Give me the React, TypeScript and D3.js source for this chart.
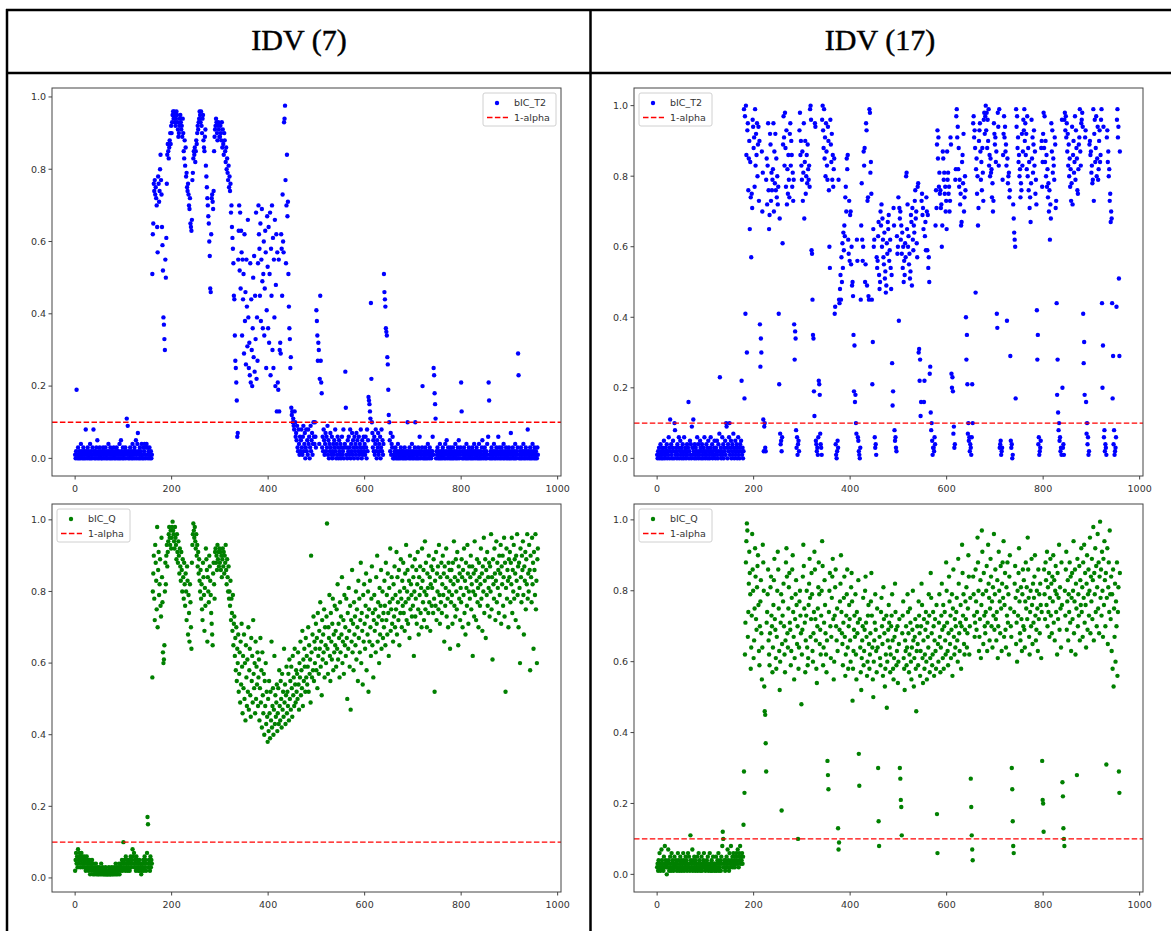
import React from 'react';
import * as d3 from 'd3';

const columnTitles = ['IDV (7)', 'IDV (17)'];
const xTicks = [0, 200, 400, 600, 800, 1000];
const yTicks = [0, 0.2, 0.4, 0.6, 0.8, 1.0];
const thresholdValue = 0.1;
const thresholdLabel = '1-alpha';

// values in percent, index = sample number
const idv7T2 = [
1,0,2,19,1,0,3,1,0,2,1,0,4,1,2,0,1,3,0,2,
1,0,8,2,1,0,3,1,2,0,1,4,0,2,1,0,3,1,8,2,
0,1,2,0,3,1,5,0,2,1,0,3,1,2,0,1,0,2,3,1,
0,2,1,3,0,1,2,0,1,4,2,0,1,3,0,2,1,0,2,1,
3,0,1,2,0,1,3,2,0,1,2,0,4,1,0,5,2,1,0,3,
1,0,2,1,3,0,2,11,1,9,0,2,1,0,3,1,2,0,1,4,
0,2,1,3,0,2,5,1,0,4,7,2,0,1,3,0,2,1,4,0,
1,3,0,2,4,1,0,3,4,1,3,0,2,1,3,0,1,2,0,1,
51,62,65,76,74,77,73,75,72,70,64,57,78,76,71,74,80,84,77,73,
64,59,52,39,37,33,30,55,50,61,76,84,87,85,83,86,88,90,87,92,
90,93,95,96,94,96,95,93,92,94,96,95,93,91,89,90,92,94,95,93,
91,92,89,94,90,85,83,88,81,86,78,79,75,74,76,73,70,69,72,65,
64,63,66,77,79,83,85,84,86,82,85,88,87,90,92,91,93,94,96,95,
93,96,92,90,94,95,88,86,85,89,91,81,78,75,72,70,67,65,60,56,
47,46,62,72,73,71,69,74,85,89,91,92,94,93,90,88,92,93,91,89,
89,92,90,88,93,86,91,87,84,90,88,85,82,86,80,83,79,77,81,75,
78,74,76,68,70,64,61,58,54,45,44,34,27,25,21,16,6,7,55,63,
70,52,68,47,63,57,34,55,44,51,29,62,38,46,26,55,42,31,66,39,
25,32,23,54,21,44,30,20,36,50,28,56,24,45,33,68,22,39,27,54,
70,62,58,45,65,38,55,69,49,36,51,60,34,47,63,57,25,41,67,53,
36,64,32,51,68,23,58,45,70,30,61,25,55,39,66,20,48,62,13,57,
21,19,55,13,30,32,29,62,58,45,73,60,57,93,94,97.6,77,54,70,84,
67,71,51,42,36,33,25,28,14,12,13,10,11,9,8,13,10,6,7,5,
9,3,2,8,4,1,6,2,5,8,3,1,6,9,2,4,7,0,3,8,
2,5,1,8,4,6,0,3,9,2,5,7,1,4,10,6,4,10,6,3,
41,38,34,27,32,30,4,22,45,27,21,18,3,6,2,8,5,1,4,7,
2,6,3,9,1,5,0,4,2,7,3,1,6,0,2,4,1,5,3,8,
2,0,4,1,6,3,0,5,2,1,4,0,3,6,1,2,8,0,3,4,
24,14,1,3,0,5,2,6,1,3,8,0,4,2,7,1,5,3,0,6,
2,4,1,7,3,5,0,2,6,1,4,3,8,2,0,5,1,3,6,2,
4,1,6,3,0,8,2,5,17,16,15,13,11,43,22,10,7,3,5,2,
6,1,4,8,2,0,5,3,7,1,4,2,6,0,3,8,2,5,1,4,
51,46,44,42,36,35,34,28,26,19,12,10,5,2,7,1,4,3,6,0,
1,0,2,1,3,0,1,2,0,4,1,0,2,1,0,3,1,2,0,1,
2,0,1,3,0,1,2,0,1,10,2,1,0,3,1,0,2,1,4,0,
1,2,0,1,3,10,0,2,1,0,1,3,0,2,6,1,0,2,1,3,
20,0,1,2,0,1,3,0,2,1,0,4,2,1,0,3,1,2,0,1,
2,6,1,25,23,18,15,11,0,2,1,3,0,1,2,0,4,1,0,2,
1,0,3,1,2,0,1,4,0,2,5,1,0,3,1,2,0,1,3,0,
2,1,0,3,1,0,2,1,4,0,1,2,0,3,1,5,0,2,1,3,
21,13,0,2,1,0,3,1,2,0,1,4,0,2,1,0,3,1,2,0,
1,2,0,3,1,0,2,4,1,0,2,1,3,0,1,2,0,4,1,0,
2,1,0,3,5,1,0,2,1,3,0,1,2,0,4,1,6,21,16,0,
1,2,0,3,1,0,2,1,4,0,2,1,0,3,1,2,0,6,1,3,
0,2,1,0,3,1,2,0,4,1,0,2,1,3,0,1,2,0,1,3,
2,0,1,7,0,2,1,3,0,1,2,0,4,1,0,2,1,3,29,23,
0,1,2,0,3,1,0,2,1,4,0,2,1,0,3,1,2,0,8,1,
2,0,1,3,0,2,1,0,4,1,2,0,3,1,0,2,1,0,3,1,
];

const idv17T2 = [
1,0,2,1,3,0,1,4,2,0,1,3,0,2,5,1,0,3,1,2,
4,0,2,1,6,3,0,11,2,4,1,0,3,5,2,0,10,8,1,3,
2,0,4,1,3,6,0,2,5,1,3,0,2,4,1,0,6,2,3,1,
0,2,4,1,3,16,0,2,5,1,4,0,9,3,1,11,2,0,4,1,
3,0,2,6,1,4,0,2,1,5,3,0,2,4,1,0,3,2,6,1,
0,2,4,1,3,0,5,2,1,0,3,6,2,1,4,0,2,1,3,5,
1,0,3,2,5,1,0,4,2,7,23,1,3,0,2,6,1,4,0,3,
2,5,1,10,9,3,0,4,2,6,10,1,3,5,0,2,4,1,7,3,
0,2,5,1,3,4,0,2,6,1,3,0,4,2,5,22,1,3,0,2,
99,17,97,41,100,86,30,93,95,76,85,90,65,84,74,57,75,71,96,94,
88,91,77,99,83,92,86,95,80,89,94,73,90,38,26,34,30,87,70,81,
11,2,9,10,3,2,79,85,72,83,95,76,65,69,92,89,73,81,76,79,
82,95,70,87,78,92,76,85,74,80,72,77,41,21,68,7,4,5,2,6,
61,89,97,91,83,98,88,77,93,72,82,75,86,79,74,92,95,83,90,86,
77,81,73,79,38,28,36,34,8,3,6,1,4,5,2,93,98,86,90,83,
79,87,73,81,95,68,84,90,75,80,86,78,89,82,79,83,77,99,100,96,
59,58,45,35,34,19,12,95,94,5,4,2,3,1,6,22,21,18,7,4,
3,1,96,100,93,88,99,85,91,80,95,87,83,79,94,90,76,60,54,96,
89,84,92,79,86,77,82,85,41,43,4,1,0,2,5,3,79,45,44,48,
52,45,57,50,61,54,64,59,66,63,74,77,70,85,82,86,62,58,73,56,
69,70,55,60,49,50,46,35,19,32,16,18,10,7,62,56,6,5,2,1,
0,3,45,66,78,62,56,60,87,83,88,50,55,95,93,49,73,74,46,45,
99,98,81,84,75,45,21,33,65,60,62,6,3,4,1,57,54,56,63,67,
52,48,50,70,66,72,60,68,62,57,55,64,51,53,47,49,61,58,67,65,
69,56,59,62,54,48,52,27,15,19,71,66,8,5,6,3,2,63,58,60,
74,39,71,68,70,62,66,58,64,54,60,50,56,52,61,57,80,81,65,72,
60,63,55,58,51,53,69,67,49,71,62,59,66,64,73,76,68,70,61,57,
77,78,30,31,22,28,12,16,73,75,69,71,65,16,22,63,67,59,74,70,
59,69,54,57,50,24,26,13,8,10,5,1,3,3,2,6,4,66,76,71,
89,93,85,91,77,81,75,76,71,72,60,66,87,85,79,81,75,77,70,73,
65,87,79,81,75,77,70,73,91,89,24,20,23,19,7,9,3,4,79,82,
97,99,91,94,82,88,77,79,72,75,66,67,84,86,78,92,70,74,80,76,
40,28,35,21,7,10,5,6,2,4,3,1,6,21,10,95,97,91,93,88,
47,82,85,75,80,66,71,90,93,95,87,79,84,76,88,81,73,96,98,92,
97,100,93,98,88,96,90,99,83,86,80,85,81,82,74,78,70,73,95,92,
89,91,84,87,41,37,98,94,83,99,3,4,5,1,2,3,79,86,92,97,
91,94,87,89,83,39,85,78,80,81,74,76,29,5,3,4,0,1,72,68,
64,62,60,17,99,94,97,88,91,84,86,80,82,74,78,76,92,83,87,96,
93,99,90,95,86,92,82,97,80,88,76,84,71,74,67,78,96,85,91,81,
89,93,83,87,75,79,72,42,28,35,4,6,1,2,3,5,88,90,77,84,
92,98,88,97,84,90,80,86,77,82,74,78,70,76,62,72,68,95,87,93,
81,85,83,79,91,89,71,73,44,18,28,13,8,10,5,6,2,3,1,96,
20,3,4,1,96,98,93,97,91,95,87,92,83,89,80,85,77,82,73,78,
94,72,86,90,81,84,97,79,93,88,85,76,75,82,89,91,99,87,83,95,
96,98,94,41,27,33,18,91,93,16,7,10,4,6,1,2,89,90,86,87,
81,83,78,79,99,73,92,96,84,88,97,80,85,94,79,82,90,93,84,86,
96,99,44,20,32,94,6,8,2,4,3,1,91,93,84,87,80,82,73,75,
67,70,68,44,17,29,4,8,1,2,3,6,43,96,99,91,94,51,29,87,
];

const idv7Q = [
2,5,7,4,6,3,8,5,4,7,6,3,5,7,4,6,3,5,4,6,
3,5,2,4,6,3,5,4,2,3,5,1,4,3,2,5,3,1,4,2,
1,3,2,4,1,2,3,1,2,1,3,2,1,2,4,1,2,3,1,2,
1,2,1,3,1,2,1,1,2,1,3,1,2,1,1,2,3,1,2,1,
2,3,1,2,4,1,3,2,1,3,2,4,1,3,2,4,3,5,2,4,
10,3,5,4,2,6,3,4,5,2,4,3,5,2,4,6,3,5,4,8,
6,4,7,3,5,4,2,6,3,5,4,2,3,5,2,4,3,1,2,4,
3,5,2,4,6,3,5,2,4,7,17,15,3,5,4,2,6,3,5,4,
56,80,85,90,78,72,93,88,83,75,98,70,86,91,79,82,89,76,73,95,
84,77,63,60,61,65,80,88,82,90,93,87,91,94,96,98,95,93,97,92,
95,98,99.5,97,96,94,92,98,95,93,89,96,91,88,94,90,85,92,87,83,
91,86,80,89,84,78,88,82,76,85,80,72,87,83,68,79,74,66,82,77,
70,64,88,93,96,99,97,95,98,94,92,96,90,93,87,91,85,89,83,80,
86,78,82,75,72,88,84,79,69,81,76,92,89,86,66,84,80,77,90,87,
83,79,74,71,68,65,85,88,82,78,91,92,88,90,86,93,89,91,87,92,
88,91,86,90,84,89,92,87,91,85,90,88,93,86,82,89,84,80,87,78,
80,76,83,72,78,74,69,79,65,71,73,62,67,58,70,55,64,60,68,52,
57,63,49,66,54,71,59,46,62,53,68,50,60,44,65,56,48,61,52,70,
47,58,64,51,45,67,55,62,49,72,57,53,60,46,66,50,59,54,63,48,
56,61,44,53,67,49,58,42,63,51,46,57,40,55,48,60,43,52,45,38,
50,41,55,46,39,52,44,66,42,48,53,40,47,62,43,51,45,49,54,41,
46,53,43,58,48,44,55,50,42,57,47,52,45,64,49,54,43,51,59,46,
52,48,57,44,61,50,55,47,59,53,45,62,51,56,48,64,54,49,58,52,
57,50,63,54,47,60,56,66,51,58,53,69,48,61,55,64,59,52,67,56,
62,54,59,70,52,65,57,61,49,90,63,56,68,58,73,55,66,60,64,71,
58,67,53,74,62,57,69,64,77,59,66,51,72,61,68,63,75,56,70,65,
60,73,99,64,57,70,67,79,62,55,74,66,61,71,78,58,68,63,76,65,
69,59,75,64,82,61,71,67,56,77,63,73,68,84,60,66,72,57,79,65,
70,62,78,67,50,74,64,81,69,59,76,47,72,66,86,63,71,58,77,68,
73,65,80,61,75,70,55,83,67,78,63,72,88,60,74,69,54,79,66,82,
71,64,76,85,58,73,68,80,52,75,66,83,70,62,78,87,65,74,56,72,
79,69,75,63,84,71,90,66,77,73,60,81,68,76,86,64,72,80,67,74,
70,83,76,65,88,72,79,68,85,74,62,81,77,92,69,75,84,71,78,66,
82,73,87,70,79,75,91,68,84,77,72,86,65,80,74,89,78,70,83,76,
88,74,81,69,85,77,93,72,80,86,71,78,83,67,90,75,82,79,73,87,
76,84,62,80,89,73,78,86,71,82,91,75,68,84,79,87,74,81,70,92,
83,77,86,72,80,94,75,88,79,70,85,81,74,90,77,84,69,82,87,76,
81,86,74,89,78,52,83,76,91,72,85,80,87,75,93,79,71,84,77,88,
74,82,90,79,85,66,87,76,81,92,73,84,78,70,88,80,86,64,83,77,
86,79,71,88,82,94,76,84,73,89,80,75,91,83,65,87,78,85,72,81,
77,89,84,70,86,79,92,74,83,68,88,81,76,93,85,71,80,87,78,84,
90,75,82,87,62,80,85,73,94,79,86,72,83,89,77,81,70,88,84,76,
82,92,78,85,69,87,80,95,74,83,89,67,86,79,91,76,84,81,88,73,
87,80,96,75,84,61,89,82,78,92,85,72,83,94,77,88,81,86,74,90,
79,85,93,71,87,82,90,76,84,95,73,88,52,81,92,78,86,83,70,89,
84,91,77,88,82,95,74,86,80,93,78,89,85,72,90,83,96,79,87,70,
88,81,60,92,84,77,90,86,94,79,68,87,83,91,75,89,82,96,78,85,
80,93,86,58,90,84,77,95,82,88,64,91,86,79,96,75,83,60,89,92,
];

const idv17Q = [
2,3,1,4,2,6,3,1,2,7,4,2,3,1,5,2,8,3,4,2,
0,3,2,7,4,1,2,5,3,1,6,2,4,3,1,2,5,3,2,4,
3,1,2,6,4,2,1,3,5,2,4,1,3,2,6,4,1,3,2,5,
2,4,1,3,6,2,5,3,1,11,4,2,3,7,1,4,2,5,3,1,
4,2,3,5,1,3,6,2,4,1,3,2,5,1,3,2,4,6,2,3,
1,3,2,4,2,5,1,3,2,6,3,1,2,4,1,3,5,2,3,1,
3,2,5,1,3,4,2,6,1,3,2,4,1,5,3,8,12,10,2,4,
3,1,4,2,5,3,7,2,4,1,6,3,2,8,4,3,5,2,6,3,
4,2,5,3,6,4,3,7,5,2,6,4,8,3,5,4,6,3,5,14,
29,23,62,71,88,94,99,97,67,74,82,91,85,79,58,64,73,96,86,80,
61,66,75,92,84,72,69,81,87,90,76,63,59,70,77,83,68,55,64,93,
88,80,53,46,45,37,29,71,74,79,86,66,62,59,68,81,84,73,70,57,
64,76,83,89,72,69,61,58,67,80,91,86,75,63,52,60,71,79,18,65,
73,77,82,70,62,57,66,88,92,84,68,64,75,81,85,71,69,59,63,78,
86,90,74,67,55,61,72,79,83,76,65,70,10,58,64,77,80,73,68,48,
62,69,84,93,87,75,71,57,66,73,80,64,59,61,76,82,89,78,67,72,
85,79,63,60,68,74,91,86,72,66,58,54,70,75,81,88,79,65,69,62,
73,80,94,87,59,64,71,83,76,68,62,57,66,32,28,24,74,80,85,70,
61,67,78,84,89,72,55,60,73,81,86,70,66,75,63,13,7,9,69,77,
82,90,74,68,65,59,71,78,84,67,56,62,73,79,86,64,58,70,76,72,
66,60,81,85,77,49,58,63,69,73,67,79,62,55,74,68,71,83,34,25,
72,64,57,52,61,66,70,78,59,63,69,80,84,71,67,56,60,73,76,65,
58,62,68,77,85,73,64,55,50,60,66,71,79,69,63,57,75,64,30,15,
8,67,61,59,74,78,70,65,56,81,72,68,53,58,62,73,47,60,66,69,
76,71,64,57,62,70,73,79,66,58,55,61,67,82,74,69,59,63,70,54,
60,65,72,30,27,21,19,11,68,73,77,61,58,52,66,63,70,59,64,79,
74,68,57,62,75,71,60,55,64,69,80,66,53,61,67,72,58,46,63,70,
65,59,77,73,68,56,63,70,82,76,61,54,66,72,58,62,69,74,60,55,
71,67,64,79,73,57,61,85,78,68,59,62,74,70,56,66,72,63,58,76,
17,6,65,60,71,79,67,57,64,73,82,69,61,76,58,70,74,66,62,88,
80,71,63,59,68,84,77,65,73,61,69,79,56,75,86,67,62,72,64,70,
74,78,66,60,89,82,68,63,71,76,58,70,93,85,73,79,65,62,69,77,
72,81,64,68,75,90,84,62,70,78,27,19,11,7,4,84,79,73,67,71,
86,77,69,74,95,88,80,63,67,72,83,61,76,97,91,79,65,85,73,70,
68,74,80,87,63,71,93,82,78,66,75,89,84,70,77,64,81,73,96,69,
79,86,72,66,74,83,61,70,91,80,77,68,87,75,63,82,88,78,94,67,
76,85,69,64,81,73,88,71,79,62,84,90,75,70,67,30,24,15,8,6,
74,82,87,78,65,71,60,80,73,85,92,77,68,66,81,72,63,79,86,70,
83,69,64,77,88,75,81,72,95,86,78,67,62,74,80,70,89,76,65,82,
71,78,84,90,73,66,69,80,75,63,86,72,79,68,82,76,61,74,32,21,
20,12,86,79,72,88,83,76,91,70,81,74,85,67,78,89,73,82,68,84,
77,90,71,83,66,80,87,74,79,62,85,72,78,93,69,81,75,64,88,76,
26,22,13,10,8,80,73,86,91,69,77,83,66,79,74,88,71,84,63,78,
85,72,80,94,68,77,86,62,82,75,28,89,70,79,73,87,66,83,76,92,
74,81,67,88,78,93,71,85,76,64,82,90,69,79,86,73,80,95,68,84,
77,89,72,83,98,66,85,79,92,74,87,70,81,96,75,88,68,84,99.5,78,
86,73,91,80,67,89,76,94,83,70,85,31,78,92,65,81,88,74,97,79,
72,84,63,79,58,86,53,75,67,82,60,77,70,88,56,74,81,29,23,85,
];

type PanelSpec = {
  values: number[];
  color: string;
  name: string;
  legend: 'left' | 'right';
  left: number;
  top: number;
};

const PW = 509;
const PH = 388;
const FONT = 'DejaVu Sans, sans-serif';
const AXIS = '#444';

function Panel({ values, color, name, legend, left, top }: PanelSpec) {
  const ys = values.map((v) => v / 100);
  const n = ys.length;
  const xMin = 0, xMax = n - 1;
  const xPad = (xMax - xMin) * 0.05;
  const x = d3.scaleLinear().domain([xMin - xPad, xMax + xPad]).range([left, left + PW]);
  const [yLo, yHi] = d3.extent(ys) as [number, number];
  const yPad = (yHi - yLo) * 0.05;
  const y = d3.scaleLinear().domain([yLo - yPad, yHi + yPad]).range([top + PH, top]);
  const bottom = top + PH;
  const lx = legend === 'right' ? left + PW - 5 - 73 : left + 5;
  const ly = top + 5;
  const cid = `clip-${left}-${top}`;
  return (
    <g>
      <rect x={left} y={top} width={PW} height={PH} fill="#fff" />
      <clipPath id={cid}>
        <rect x={left} y={top} width={PW} height={PH} />
      </clipPath>
      <g clipPath={`url(#${cid})`}>
        {ys.map((v, i) => (
          <circle key={i} cx={x(i)} cy={y(v)} r={2.2} fill={color} />
        ))}
        <line x1={left} x2={left + PW} y1={y(thresholdValue)} y2={y(thresholdValue)}
          stroke="#ff0000" strokeWidth={1.4} strokeDasharray="5.5,2.4" />
      </g>
      <rect x={left} y={top} width={PW} height={PH} fill="none" stroke={AXIS} strokeWidth={1} />
      {xTicks.map((t) => (
        <g key={`x${t}`}>
          <line x1={x(t)} x2={x(t)} y1={bottom} y2={bottom + 3.5} stroke={AXIS} />
          <text x={x(t)} y={bottom + 16} textAnchor="middle" fontSize={9.5} fill="#333" fontFamily={FONT}>{t}</text>
        </g>
      ))}
      {yTicks.map((t) => (
        <g key={`y${t}`}>
          <line x1={left - 3.5} x2={left} y1={y(t)} y2={y(t)} stroke={AXIS} />
          <text x={left - 6} y={y(t)} dy="0.35em" textAnchor="end" fontSize={9.5} fill="#333" fontFamily={FONT}>{t.toFixed(1)}</text>
        </g>
      ))}
      <g>
        <rect x={lx} y={ly} width={73} height={33} rx={2} fill="#fff" fillOpacity={0.85} stroke="#d0d0d0" strokeWidth={1} />
        <circle cx={lx + 14} cy={ly + 10} r={2.2} fill={color} />
        <text x={lx + 31} y={ly + 10} dy="0.35em" fontSize={9.5} fill="#333" fontFamily={FONT}>{name}</text>
        <line x1={lx + 4} x2={lx + 25} y1={ly + 24.5} y2={ly + 24.5} stroke="#ff0000" strokeWidth={1.4} strokeDasharray="5.5,2.4" />
        <text x={lx + 31} y={ly + 24.5} dy="0.35em" fontSize={9.5} fill="#333" fontFamily={FONT}>{thresholdLabel}</text>
      </g>
    </g>
  );
}

export default function App() {
  const W = 1171, H = 931;
  const colLeft = [52, 634];
  const rowTop = [88, 504];
  const panels: PanelSpec[] = [
    { values: idv7T2, color: '#0000ff', name: 'bIC_T2', legend: 'right', left: colLeft[0], top: rowTop[0] },
    { values: idv17T2, color: '#0000ff', name: 'bIC_T2', legend: 'left', left: colLeft[1], top: rowTop[0] },
    { values: idv7Q, color: '#008000', name: 'bIC_Q', legend: 'left', left: colLeft[0], top: rowTop[1] },
    { values: idv17Q, color: '#008000', name: 'bIC_Q', legend: 'left', left: colLeft[1], top: rowTop[1] },
  ];
  const bw = 2.5;
  return (
    <svg width={W} height={H} style={{ position: 'absolute', left: 0, top: 0, display: 'block', background: '#fff' }}>
      <rect x={0} y={0} width={W} height={H} fill="#fff" />
      {panels.map((p, i) => <Panel key={i} {...p} />)}
      <line x1={6} x2={W} y1={10} y2={10} stroke="#000" strokeWidth={bw} />
      <line x1={6} x2={W} y1={73} y2={73} stroke="#000" strokeWidth={bw} />
      <line x1={7} x2={7} y1={9} y2={H} stroke="#000" strokeWidth={bw} />
      <line x1={590.5} x2={590.5} y1={9} y2={H} stroke="#000" strokeWidth={bw} />
      {columnTitles.map((t, i) => (
        <text key={t} x={i === 0 ? 299 : 880} y={50} textAnchor="middle" fontSize={30}
          fontFamily="'Liberation Serif', 'DejaVu Serif', serif" fill="#000" stroke="#000" strokeWidth={0.45}>{t}</text>
      ))}
    </svg>
  );
}
